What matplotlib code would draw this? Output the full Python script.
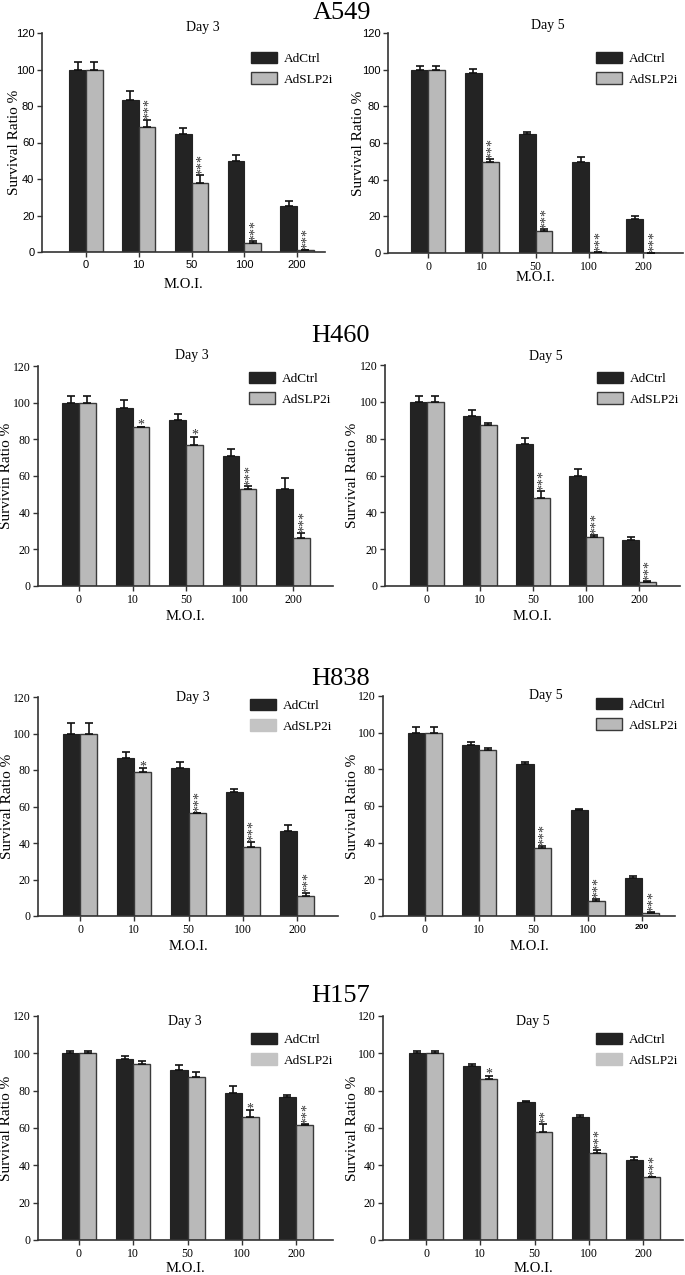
import numpy as np
import matplotlib
matplotlib.use("Agg")
import matplotlib.pyplot as plt
from matplotlib.patches import Patch

SERIF = ["Liberation Serif", "DejaVu Serif"]
SANS = ["Liberation Sans", "DejaVu Sans"]

# ---------------- data ----------------
moi_labels = ["0", "10", "50", "100", "200"]
series_names = ["AdCtrl", "AdSLP2i"]
cell_lines = ["A549", "H460", "H838", "H157"]
days = ["Day 3", "Day 5"]

a549_d3_ctrl = [100, 83.5, 64.5, 50.0, 25.0]
a549_d3_ctrl_err = [4.2, 4.6, 3.4, 3.3, 3.1]
a549_d3_slp = [100, 68.3, 38.0, 5.1, 0.9]
a549_d3_slp_err = [4.2, 4.3, 4.0, 0.8, 0.3]
a549_d3_stars = ["", "***", "***", "***", "***"]

a549_d5_ctrl = [100, 98.2, 64.9, 49.6, 18.5]
a549_d5_ctrl_err = [2.0, 2.0, 1.0, 2.7, 1.8]
a549_d5_slp = [100, 49.8, 11.8, 0.4, 0.2]
a549_d5_slp_err = [2.0, 1.3, 1.3, 0.0, 0.0]
a549_d5_stars = ["", "***", "***", "***", "***"]

h460_d3_ctrl = [100, 97.0, 90.3, 71.0, 52.8]
h460_d3_ctrl_err = [3.4, 4.6, 3.3, 3.5, 6.0]
h460_d3_slp = [100, 86.5, 76.9, 52.8, 26.0]
h460_d3_slp_err = [3.4, 0.3, 4.4, 1.6, 3.0]
h460_d3_stars = ["", "*", "*", "***", "***"]

h460_d5_ctrl = [100, 92.3, 76.9, 59.8, 25.0]
h460_d5_ctrl_err = [3.3, 3.4, 3.6, 3.5, 1.6]
h460_d5_slp = [100, 87.2, 47.9, 26.6, 2.2]
h460_d5_slp_err = [3.3, 1.4, 3.6, 1.3, 0.5]
h460_d5_stars = ["", "", "***", "***", "***"]

h838_d3_ctrl = [100, 86.7, 81.3, 67.8, 46.7]
h838_d3_ctrl_err = [5.5, 3.4, 3.2, 1.6, 3.3]
h838_d3_slp = [100, 79.1, 56.2, 37.6, 11.0]
h838_d3_slp_err = [5.5, 1.8, 0.3, 3.1, 1.5]
h838_d3_stars = ["", "*", "***", "***", "***"]

h838_d5_ctrl = [100, 93.1, 82.9, 57.6, 20.7]
h838_d5_ctrl_err = [3.1, 1.8, 1.3, 0.9, 1.3]
h838_d5_slp = [100, 90.5, 37.3, 8.2, 1.8]
h838_d5_slp_err = [3.1, 1.1, 1.1, 1.3, 0.4]
h838_d5_stars = ["", "", "***", "***", "***"]

h157_d3_ctrl = [100, 97.0, 90.9, 78.6, 76.8]
h157_d3_ctrl_err = [1.0, 1.4, 3.0, 4.1, 0.9]
h157_d3_slp = [100, 94.3, 87.1, 65.7, 61.6]
h157_d3_slp_err = [1.0, 1.8, 3.1, 3.8, 0.5]
h157_d3_stars = ["", "", "", "*", "***"]

h157_d5_ctrl = [100, 93.4, 74.0, 66.0, 43.0]
h157_d5_ctrl_err = [1.0, 0.9, 0.5, 1.0, 1.7]
h157_d5_slp = [100, 86.1, 58.0, 46.4, 33.6]
h157_d5_slp_err = [1.0, 1.8, 4.0, 1.8, 0.3]
h157_d5_stars = ["", "*", "**", "***", "***"]

ylabels = ["Survival Ratio %", "Survival Ratio %",
           "Survivin Ratio %", "Survival Ratio %",
           "Survival Ratio %", "Survival Ratio %",
           "Survival Ratio %", "Survival Ratio %"]

panels_data = [
    (a549_d3_ctrl, a549_d3_ctrl_err, a549_d3_slp, a549_d3_slp_err, a549_d3_stars),
    (a549_d5_ctrl, a549_d5_ctrl_err, a549_d5_slp, a549_d5_slp_err, a549_d5_stars),
    (h460_d3_ctrl, h460_d3_ctrl_err, h460_d3_slp, h460_d3_slp_err, h460_d3_stars),
    (h460_d5_ctrl, h460_d5_ctrl_err, h460_d5_slp, h460_d5_slp_err, h460_d5_stars),
    (h838_d3_ctrl, h838_d3_ctrl_err, h838_d3_slp, h838_d3_slp_err, h838_d3_stars),
    (h838_d5_ctrl, h838_d5_ctrl_err, h838_d5_slp, h838_d5_slp_err, h838_d5_stars),
    (h157_d3_ctrl, h157_d3_ctrl_err, h157_d3_slp, h157_d3_slp_err, h157_d3_stars),
    (h157_d5_ctrl, h157_d5_ctrl_err, h157_d5_slp, h157_d5_slp_err, h157_d5_stars),
]

# ---------------- layout (pixels) ----------------
W, H = 685, 1275
# L, R, top(120), bottom(0), group0 x, group200 x, M.O.I. y, day x, day y, legend x, legend y, ylabel x
layout = [
    (42, 325, 33, 252, 86, 297, 285, 203, 27, 251, 53, 15),
    (388, 683, 33, 253, 428, 643, 277, 548, 25, 596, 53, 358),
    (38, 333, 366, 586, 79, 293, 616, 192, 355, 249, 373, 7),
    (385, 680, 365, 586, 427, 639, 616, 546, 356, 597, 373, 352),
    (38, 338, 697, 916, 80, 297, 946, 193, 697, 250, 700, 8),
    (383, 675, 696, 916, 425, 642, 946, 546, 696, 596, 699, 352),
    (38, 333, 1016, 1240, 79, 296, 1269, 185, 1021, 251, 1034, 7),
    (383, 683, 1016, 1240, 426, 643, 1269, 533, 1021, 596, 1034, 352),
]
# baseline positions of the row titles
title_pos = [(342, 19), (340, 342), (341, 685), (341, 1002)]
ytick_sans = [True, True, False, False, False, False, False, False]
xtick_sans = [True, False, False, False, False, False, False, False]
legend_edge = [True, True, True, True, False, True, False, False]

DARK = "#232323"
GRAY = "#b9b9b9"
EDGE = "#3a3a3a"
LEG_GRAY_NOEDGE = "#c4c4c4"
STAR = "#333333"

fig = plt.figure(figsize=(W / 100, H / 100), dpi=100)

x = np.arange(len(moi_labels))
bw = 0.315

for p, (data, lay) in enumerate(zip(panels_data, layout)):
    ctrl, ctrl_err, slp, slp_err, stars = data
    L, R, T, B, g0, g4, moi_y, dx, dy, lx, ly, ylx = lay
    ax = fig.add_axes([L / W, 1 - B / H, (R - L) / W, (B - T) / H])
    sp = (g4 - g0) / 4.0
    ax.set_xlim(-(g0 - L) / sp, 4 + (R - g4) / sp)
    ax.set_ylim(0, 120)

    ax.bar(x - bw / 2, ctrl, bw, color=DARK, edgecolor=DARK, linewidth=0.8, zorder=2)
    ax.bar(x + bw / 2, slp, bw, color=GRAY, edgecolor=EDGE, linewidth=1.0, zorder=2)
    ax.errorbar(x - bw / 2, ctrl, yerr=[np.zeros(5), ctrl_err], fmt="none",
                ecolor="#111111", elinewidth=1.2, capsize=2.6, capthick=1.2, zorder=3)
    ax.errorbar(x + bw / 2, slp, yerr=[np.zeros(5), slp_err], fmt="none",
                ecolor="#111111", elinewidth=1.2, capsize=2.6, capthick=1.2, zorder=3)

    for i, s in enumerate(stars):
        if not s:
            continue
        top = slp[i] + slp_err[i]
        if len(s) > 1:
            ax.annotate(s, (x[i] + bw / 2, top), xytext=(1.8, 0.3),
                        textcoords="offset points", rotation=90, ha="center",
                        va="bottom", fontsize=10, color=STAR,
                        family=SERIF)
        else:
            ax.annotate(s, (x[i] + bw / 2, top), xytext=(0, -3.5),
                        textcoords="offset points", ha="center",
                        va="bottom", fontsize=10, color=STAR,
                        family=SERIF)

    for side in ["top", "right"]:
        ax.spines[side].set_visible(False)
    for side in ["left", "bottom"]:
        ax.spines[side].set_linewidth(1.2)
        ax.spines[side].set_color("#333333")

    ax.set_yticks(np.arange(0, 121, 20))
    ax.set_xticks(x)
    ax.set_xticklabels(moi_labels)
    ax.tick_params(axis="both", length=3.5, width=1.0, color="#333333",
                   labelsize=8, pad=2)
    for lab in ax.get_yticklabels():
        lab.set_family(SANS if ytick_sans[p] else SERIF)
        lab.set_fontsize(8 if ytick_sans[p] else 8.5)
    for lab in ax.get_xticklabels():
        lab.set_family(SANS if xtick_sans[p] else SERIF)
        lab.set_fontsize(8 if xtick_sans[p] else 8.5)
    if p == 5:
        lab = ax.get_xticklabels()[4]
        lab.set_family(SANS)
        lab.set_fontsize(6)
        lab.set_fontweight("bold")

    ax.set_ylabel(ylabels[p], family=SERIF, fontsize=11)
    ax.yaxis.set_label_coords((ylx - L) / (R - L), 0.5)
    ax.yaxis.label.set_va("center")
    ax.set_xlabel("M.O.I.", family=SERIF, fontsize=10.5)
    ax.xaxis.set_label_coords(0.5, -(moi_y - B) / (B - T))
    ax.xaxis.label.set_va("center")

    fig.text(dx / W, 1 - dy / H, days[p % 2], family=SERIF, fontsize=10,
             ha="center", va="center")

    g_patch = Patch(facecolor=GRAY if legend_edge[p] else LEG_GRAY_NOEDGE,
                    edgecolor=EDGE if legend_edge[p] else LEG_GRAY_NOEDGE,
                    linewidth=1.0)
    d_patch = Patch(facecolor=DARK, edgecolor=DARK, linewidth=1.0)
    leg = ax.legend([d_patch, g_patch], series_names,
                    loc="upper left",
                    bbox_to_anchor=((lx - L) / (R - L), (B - ly + 1) / (B - T)),
                    frameon=False, borderpad=0, borderaxespad=0,
                    handlelength=2.0, handleheight=0.95, handletextpad=0.5,
                    labelspacing=0.55, prop={"family": SERIF, "size": 9.5})

for name, (tx, ty) in zip(cell_lines, title_pos):
    fig.text(tx / W, 1 - ty / H, name, family=SERIF, fontsize=19,
             ha="center", va="baseline")

fig.savefig("out.png", dpi=100)
